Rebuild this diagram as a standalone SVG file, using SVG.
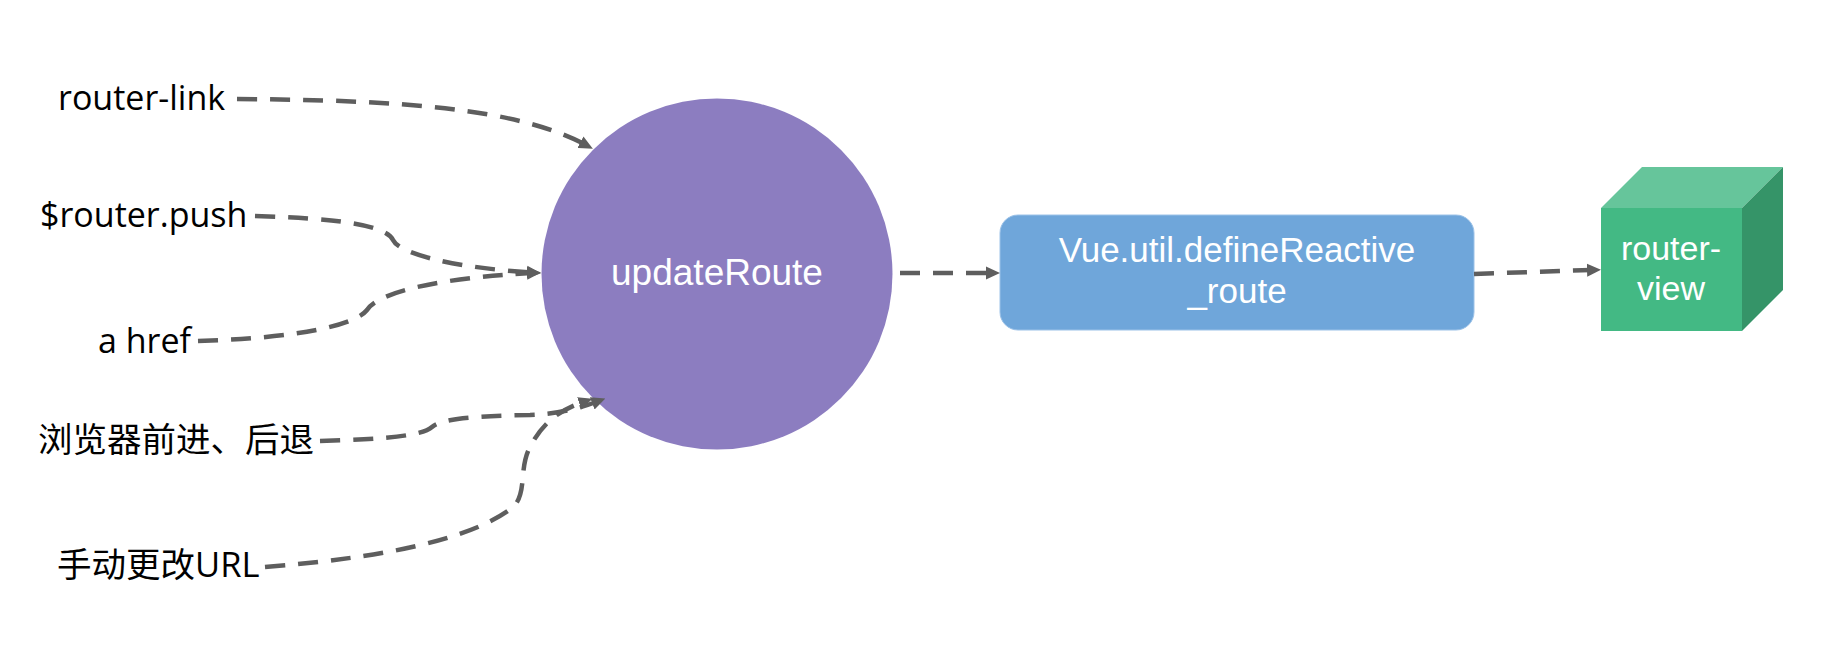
<svg xmlns="http://www.w3.org/2000/svg" width="1836" height="656" viewBox="0 0 1836 656">
  <style>
    .label { font-family: "Open Sans", "Noto Sans CJK SC", sans-serif; font-size: 34px; fill: #000; }
    .cjk { font-family: "Open Sans", "Noto Sans CJK SC", sans-serif; font-size: 34.5px; fill: #000; }
    .inner { font-family: "Liberation Sans", Arial, sans-serif; font-size: 35px; fill: #fff; text-anchor: middle; }
    .link { fill: none; stroke: #5e5e5e; stroke-width: 4.5; stroke-dasharray: 20 13; marker-end: url(#arrow); }
  </style>
  <defs>
    <marker id="arrow" viewBox="0 0 14 14" refX="4" refY="7" markerWidth="14" markerHeight="14" markerUnits="userSpaceOnUse" orient="auto">
      <path d="M0,0.5 L14,7 L0,13.5 z" fill="#5e5e5e"/>
    </marker>
  </defs>

  <rect width="1836" height="656" fill="#fff"/>

  <!-- sources -->
  <g id="router-link"><text class="label" x="58" y="110">router-link</text></g>
  <g id="router-push"><text class="label" x="40" y="227">$router.push</text></g>
  <g id="a-href"><text class="label" x="98" y="353">a href</text></g>
  <g id="browser-nav"><text class="cjk" x="38" y="452">浏览器前进、后退</text></g>
  <g id="manual-url"><text class="cjk" x="57" y="577">手动更改URL</text></g>

  <!-- central handler -->
  <g id="updateRoute">
    <circle cx="717" cy="274" r="175.5" fill="#8c7dc0"/>
    <text class="inner" x="717" y="285" style="font-size:37px">updateRoute</text>
  </g>

  <!-- reactive route -->
  <g id="defineReactive">
    <rect x="1000" y="215" width="474" height="115" rx="18" fill="#6fa6da" stroke="#9cc2e8" stroke-width="1"/>
    <text class="inner" x="1237" y="262">Vue.util.defineReactive</text>
    <text class="inner" x="1237" y="303">_route</text>
  </g>

  <!-- view cube -->
  <g id="router-view">
    <polygon points="1601,208 1642,167 1783,167 1742,208" fill="#66c59b"/>
    <polygon points="1742,208 1783,167 1783,290 1742,331" fill="#359468"/>
    <rect x="1601" y="208" width="141" height="123" fill="#43b984"/>
    <text class="inner" x="1671" y="260" style="font-size:34px">router-</text>
    <text class="inner" x="1671" y="300" style="font-size:34px">view</text>
  </g>

  <!-- connectors -->
  <g id="connectors">
    <path class="link" d="M237,99 C400,100 515,108 584,144"/>
    <path class="link" d="M255,216 C330,218 385,224 393,240 C400,255 460,268 531,272.5"/>
    <path class="link" d="M198,341 C300,338 355,325 367,310 C378,292 440,278 531,273"/>
    <path class="link" d="M320,441 C385,439 422,436 432,427 C442,418 480,416 530,415 C555,414 575,410 596,402"/>
    <path class="link" d="M265,567 C380,558 470,540 512,508 C528,494 518,470 530,447 C543,422 560,410 583,402"/>
    <path class="link" d="M900,273 L990,273"/>
    <path class="link" d="M1474,274 L1591,270"/>
  </g>
</svg>
